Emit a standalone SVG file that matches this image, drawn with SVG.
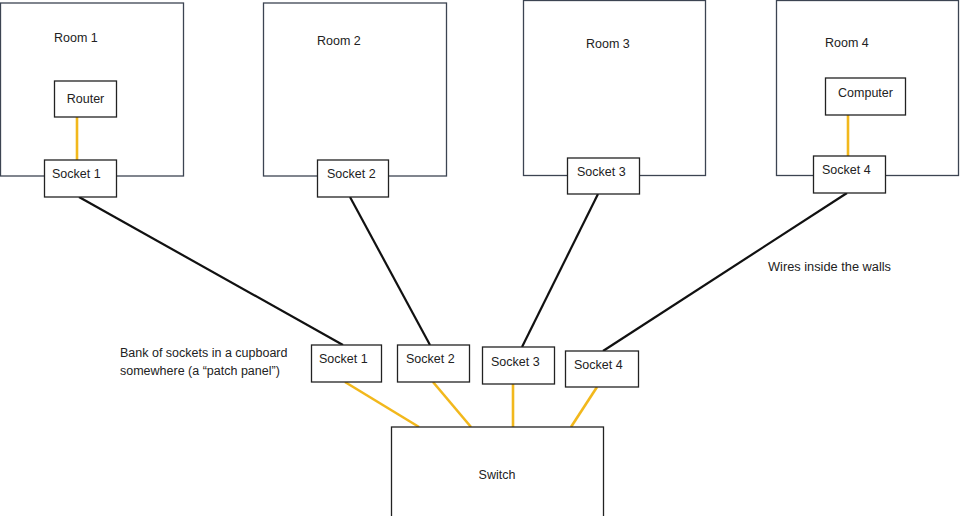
<svg xmlns="http://www.w3.org/2000/svg" width="960" height="516" viewBox="0 0 960 516">
<style>
.room{fill:#fff;stroke:#3c4452;stroke-width:1.3}
.box{fill:#fff;stroke:#222;stroke-width:1.3}
.t{font-family:"Liberation Sans",Arial,sans-serif;font-size:12.5px;fill:#222}
.wire{stroke:#111;stroke-width:2.2;fill:none}
.patch{stroke:#f2b81c;stroke-width:2.6;fill:none}
</style>
<rect width="960" height="516" fill="#fff"/>
<g id="room1"><rect class="room" x="0.5" y="3" width="183" height="173"/><text class="t" x="54" y="42">Room 1</text></g>
<g id="room2"><rect class="room" x="263.5" y="3" width="183" height="173"/><text class="t" x="317" y="45">Room 2</text></g>
<g id="room3"><rect class="room" x="523.5" y="0.5" width="182" height="175"/><text class="t" x="586" y="48">Room 3</text></g>
<g id="room4"><rect class="room" x="776.5" y="0.5" width="182" height="175"/><text class="t" x="825" y="47">Room 4</text></g>
<g id="connectors">
<line class="patch" x1="77" y1="117" x2="77" y2="160"/>
<line class="patch" x1="848" y1="115" x2="848" y2="156"/>
<line class="wire" x1="79" y1="197" x2="343" y2="345"/>
<line class="wire" x1="350" y1="197" x2="430" y2="345"/>
<line class="wire" x1="598" y1="194" x2="522" y2="347"/>
<line class="wire" x1="847" y1="193" x2="603" y2="351"/>
<line class="patch" x1="345" y1="382" x2="419" y2="427"/>
<line class="patch" x1="433" y1="382" x2="471" y2="427"/>
<line class="patch" x1="513" y1="384" x2="513" y2="427"/>
<line class="patch" x1="597" y1="387" x2="571" y2="427"/>
</g>
<g id="router"><rect class="box" x="54.5" y="81" width="62" height="36"/><text class="t" x="85.5" y="102.5" text-anchor="middle">Router</text></g>
<g id="computer"><rect class="box" x="825.5" y="78" width="80" height="37"/><text class="t" x="865.5" y="97" text-anchor="middle">Computer</text></g>
<g id="socket1"><rect class="box" x="44.5" y="160" width="72" height="37"/><text class="t" x="52" y="178">Socket 1</text></g>
<g id="socket2"><rect class="box" x="317.5" y="160" width="71" height="37"/><text class="t" x="327" y="178">Socket 2</text></g>
<g id="socket3"><rect class="box" x="567.5" y="158" width="72" height="36"/><text class="t" x="577" y="176">Socket 3</text></g>
<g id="socket4"><rect class="box" x="813.5" y="156" width="72" height="37"/><text class="t" x="822" y="174">Socket 4</text></g>
<g id="patch1"><rect class="box" x="311.5" y="345" width="70" height="37"/><text class="t" x="319" y="363">Socket 1</text></g>
<g id="patch2"><rect class="box" x="397.5" y="345" width="72" height="37"/><text class="t" x="406" y="363">Socket 2</text></g>
<g id="patch3"><rect class="box" x="482.5" y="347" width="72" height="37"/><text class="t" x="491" y="366">Socket 3</text></g>
<g id="patch4"><rect class="box" x="565.5" y="351" width="73" height="36"/><text class="t" x="574" y="369">Socket 4</text></g>
<g id="switch"><rect class="box" x="391.5" y="427" width="212" height="92"/><text class="t" x="497" y="479" text-anchor="middle">Switch</text></g>
<g id="labels">
<text class="t" x="120" y="357">Bank of sockets in a cupboard</text>
<text class="t" x="120" y="375">somewhere (a “patch panel”)</text>
<text class="t" x="768" y="271" textLength="123" lengthAdjust="spacingAndGlyphs">Wires inside the walls</text>
</g>
</svg>
